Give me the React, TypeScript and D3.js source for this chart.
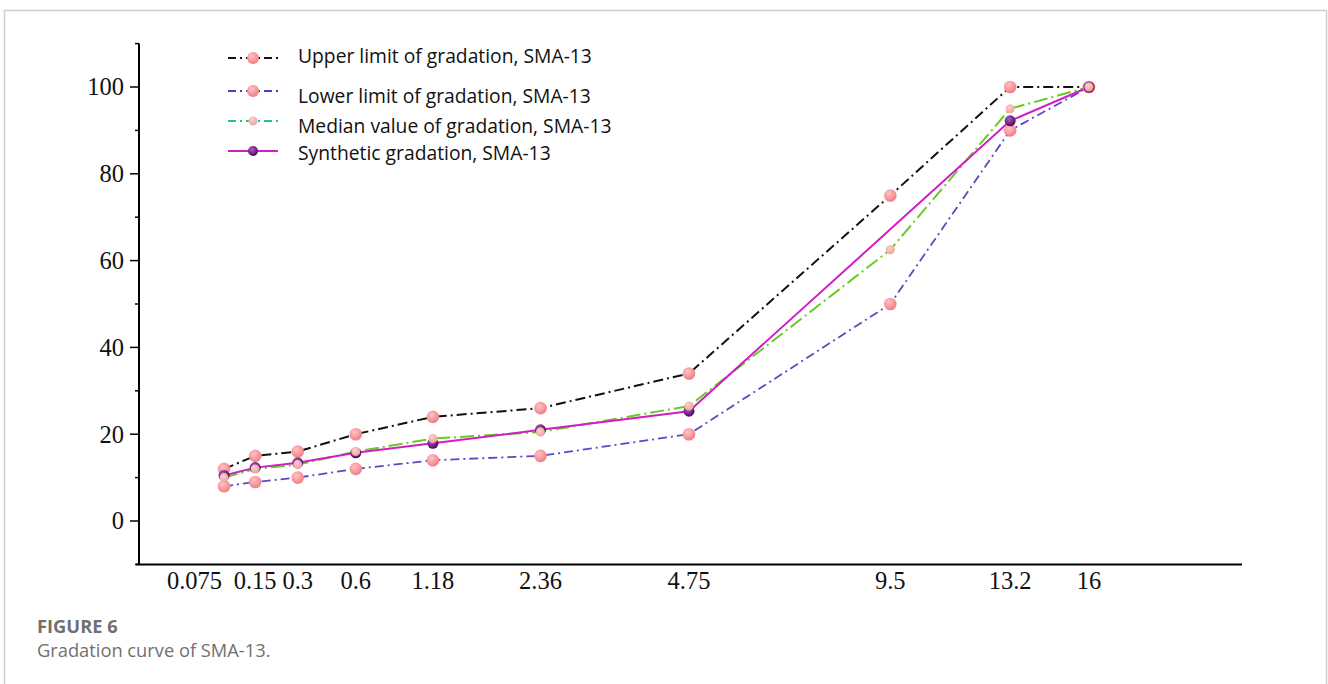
import React, { useEffect, useRef } from "react";
import * as d3 from "d3";

const sieves = [0.075, 0.15, 0.3, 0.6, 1.18, 2.36, 4.75, 9.5, 13.2, 16];
const sieveLabels = ["0.075", "0.15", "0.3", "0.6", "1.18", "2.36", "4.75", "9.5", "13.2", "16"];
const upperLimit = [12, 15, 16, 20, 24, 26, 34, 75, 100, 100];
const lowerLimit = [8, 9, 10, 12, 14, 15, 20, 50, 90, 100];
const medianValue = [10, 12, 13, 16, 19, 20.5, 26.5, 62.5, 95, 100];
const synthetic = [10.5, 12.3, 13.4, 15.7, 17.9, 21.0, 25.3, 67.2, 92.2, 100];
const syntheticMarked = [true, true, true, true, true, true, true, false, true, true];
const yMajorTicks = [0, 20, 40, 60, 80, 100];
const yMinorTicks = [-10, 10, 30, 50, 70, 90, 110];
const legendLabels = [
  "Upper limit of gradation, SMA-13",
  "Lower limit of gradation, SMA-13",
  "Median value of gradation, SMA-13",
  "Synthetic gradation, SMA-13",
];

export default function App() {
  const ref = useRef<SVGSVGElement | null>(null);

  useEffect(() => {
    const svg = d3.select(ref.current);
    svg.selectAll("*").remove();

    const H = 684;
    const x = d3.scalePow().exponent(0.45).domain([0, 22.3]).range([139, 1242]);
    const y = d3.scaleLinear().domain([-10, 110]).range([564.4, 43.6]);

    const defs = svg.append("defs");
    const mkGrad = (id: string, c0: string, c1: string) => {
      const g = defs.append("radialGradient").attr("id", id).attr("cx", "40%").attr("cy", "35%").attr("r", "65%");
      g.append("stop").attr("offset", "0%").attr("stop-color", c0);
      g.append("stop").attr("offset", "100%").attr("stop-color", c1);
    };
    mkGrad("pinkG", "#ffc4c4", "#f27d84");
    mkGrad("paleG", "#fbd0cc", "#f0a29c");
    mkGrad("purpG", "#b060c0", "#4e0460");

    // frame
    svg.append("path")
      .attr("d", `M4.5,${H} V10.5 H1326.5 V${H}`)
      .attr("fill", "none").attr("stroke", "#cfcfcf").attr("stroke-width", 1.5);

    const serif = "'Liberation Serif', 'Times New Roman', serif";

    // axes
    const axisG = svg.append("g");
    axisG.append("line").attr("x1", x(0)).attr("x2", x(0)).attr("y1", y(110)).attr("y2", y(-10))
      .attr("stroke", "#000").attr("stroke-width", 2);
    axisG.append("line").attr("x1", x(0) - 3).attr("x2", x.range()[1]).attr("y1", y(-10)).attr("y2", y(-10))
      .attr("stroke", "#000").attr("stroke-width", 2);
    axisG.selectAll("line.major").data(yMajorTicks).enter().append("line")
      .attr("x1", x(0) - 9).attr("x2", x(0)).attr("y1", (d) => y(d)).attr("y2", (d) => y(d))
      .attr("stroke", "#000").attr("stroke-width", 1.5);
    axisG.selectAll("line.minor").data(yMinorTicks).enter().append("line")
      .attr("x1", x(0) - 4).attr("x2", x(0)).attr("y1", (d) => y(d)).attr("y2", (d) => y(d))
      .attr("stroke", "#000").attr("stroke-width", 1.5);
    axisG.selectAll("text.yl").data(yMajorTicks).enter().append("text")
      .attr("x", x(0) - 15).attr("y", (d) => y(d)).attr("dy", "0.34em")
      .attr("text-anchor", "end")
      .attr("font-family", serif).attr("font-size", 24.5)
      .attr("fill", "#111")
      .text((d) => String(d));
    axisG.selectAll("text.xl").data(sieves).enter().append("text")
      .attr("x", (d, i) => (i === 0 ? x(d) - 2 : x(d)))
      .attr("y", 589)
      .attr("text-anchor", (d, i) => (i === 0 ? "end" : "middle"))
      .attr("font-family", serif).attr("font-size", 24.5)
      .attr("fill", "#111")
      .text((d, i) => sieveLabels[i]);

    const line = d3.line<number>().x((d, i) => x(sieves[i])).y((d) => y(d));

    const series = [
      { data: upperLimit, color: "#111", dash: "10,4,2,4", width: 2 },
      { data: lowerLimit, color: "#5a48c4", dash: "9,4,2,4", width: 1.8 },
      { data: medianValue, color: "#66cc22", dash: "14,4,2,4", width: 2 },
      { data: synthetic, color: "#d21cc8", dash: null as string | null, width: 2 },
    ];
    series.forEach((s) => {
      const p = svg.append("path").attr("d", line(s.data) as string)
        .attr("fill", "none").attr("stroke", s.color).attr("stroke-width", s.width);
      if (s.dash) p.attr("stroke-dasharray", s.dash);
    });

    const dots = (data: number[], r: number, fill: string, filter?: boolean[]) => {
      svg.append("g").selectAll("circle").data(data.map((v, i) => ({ v, i })).filter((d) => !filter || filter[d.i]))
        .enter().append("circle")
        .attr("cx", (d) => x(sieves[d.i])).attr("cy", (d) => y(d.v)).attr("r", r)
        .attr("fill", fill);
    };
    dots(upperLimit, 6.3, "url(#pinkG)");
    dots(lowerLimit, 6.3, "url(#pinkG)");
    dots(synthetic, 5.5, "url(#purpG)", syntheticMarked);
    dots(medianValue, 4.5, "url(#paleG)");

    // legend
    const legendSampleY = [58, 91, 121, 151];
    const legendTextY = [63, 103, 133, 160];
    const legendStyles = [
      { color: "#111", dash: "8,4,2,4", fill: "url(#pinkG)", r: 6 },
      { color: "#4a3cc8", dash: "8,4,2,4", fill: "url(#pinkG)", r: 6 },
      { color: "#22c487", dash: "8,4,2,4", fill: "url(#paleG)", r: 4.5 },
      { color: "#d21cc8", dash: null as string | null, fill: "url(#purpG)", r: 5 },
    ];
    const lg = svg.append("g");
    legendLabels.forEach((lab, i) => {
      const st = legendStyles[i];
      const l = lg.append("line").attr("x1", 228).attr("x2", 278)
        .attr("y1", legendSampleY[i]).attr("y2", legendSampleY[i])
        .attr("stroke", st.color).attr("stroke-width", 2);
      if (st.dash) l.attr("stroke-dasharray", st.dash);
      lg.append("circle").attr("cx", 253).attr("cy", legendSampleY[i]).attr("r", st.r).attr("fill", st.fill);
      lg.append("text").attr("x", 298).attr("y", legendTextY[i])
        .attr("font-family", "'Open Sans', 'Noto Sans', sans-serif").attr("font-size", 19.3)
        .attr("fill", "#111").text(lab);
    });

    // caption
    svg.append("text").attr("x", 37).attr("y", 633)
      .attr("font-family", "'Open Sans', 'Noto Sans', sans-serif").attr("font-size", 18.3)
      .attr("font-weight", "bold").attr("fill", "#707070").text("FIGURE 6");
    svg.append("text").attr("x", 37).attr("y", 657)
      .attr("font-family", "'Open Sans', 'Noto Sans', sans-serif").attr("font-size", 18.3)
      .attr("fill", "#707070").text("Gradation curve of SMA-13.");
  }, []);

  return (
    <svg
      ref={ref}
      width={1328}
      height={684}
      style={{ position: "absolute", left: 0, top: 0, background: "#fff" }}
    />
  );
}
